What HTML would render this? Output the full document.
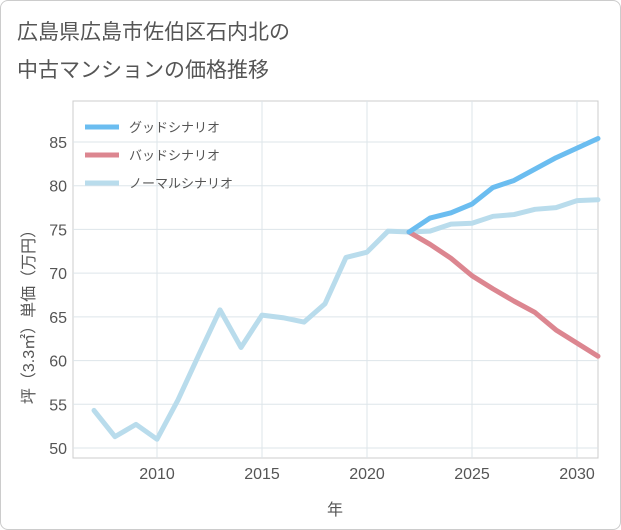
<!DOCTYPE html>
<html><head><meta charset="utf-8"><style>
body{margin:0;background:#fff;font-family:"Liberation Sans","Noto Sans CJK JP",sans-serif;}
#wrap{position:relative;width:619px;height:528px;border:1px solid #ccc;border-radius:8px;overflow:hidden;background:#fff}
#title{position:absolute;left:16px;top:13px;font-size:21px;line-height:38px;color:#555;}
</style></head><body>
<div id="wrap">
<div id="title">広島県広島市佐伯区石内北の<br>中古マンションの価格推移</div>
<svg id="chart" width="621" height="530" style="position:absolute;left:0;top:0"></svg>
</div>
<script>
const years=[2007,2008,2009,2010,2011,2012,2013,2014,2015,2016,2017,2018,2019,2020,2021,2022,2023,2024,2025,2026,2027,2028,2029,2030,2031];
const normalVals=[54.3,51.3,52.7,51.0,55.5,60.7,65.8,61.5,65.2,64.9,64.4,66.5,71.8,72.4,74.8,74.7,74.8,75.6,75.7,76.5,76.7,77.3,77.5,78.3,78.4];
const futureYears=[2022,2023,2024,2025,2026,2027,2028,2029,2030,2031];
const goodVals=[74.7,76.3,76.9,77.9,79.8,80.6,81.9,83.2,84.3,85.4];
const badVals=[74.7,73.3,71.7,69.7,68.2,66.8,65.5,63.5,62.0,60.5];
const xTicks=[2010,2015,2020,2025,2030];
const yTicks=[50,55,60,65,70,75,80,85];
const legendLabels=["グッドシナリオ","バッドシナリオ","ノーマルシナリオ"];
const legendColors=["#6bbdf0","#dc8690","#b9dcec"];

const NS="http://www.w3.org/2000/svg";
const svg=document.getElementById('chart');
const L=72,R=597,T=100,B=457;
const x=y=>156+(y-2010)*21;
const yv=v=>447-(v-50)*(306/35);
function mk(t,a){const e=document.createElementNS(NS,t);for(const k in a)e.setAttribute(k,a[k]);svg.appendChild(e);return e;}
const bg=mk('rect',{x:L,y:T,width:R-L,height:B-T,fill:'#fff',stroke:'#ccc'});


for(const t of xTicks){
 const g=mk('line',{x1:x(t),x2:x(t),y1:T,y2:B,stroke:'#dde5ea'});
 
 
 const tx=mk('text',{x:x(t),y:478,'text-anchor':'middle','font-size':16,fill:'#555'});tx.textContent=t;
 
 
}
for(const t of yTicks){
 const g=mk('line',{x1:L,x2:R,y1:yv(t),y2:yv(t),stroke:'#dde5ea'});
 
 
 const tx=mk('text',{x:66,y:yv(t)+6,'text-anchor':'end','font-size':16,fill:'#555'});tx.textContent=t;
 
 
}
function line(xs,vs,c,name){
 const p=mk('polyline',{points:xs.map((a,i)=>x(a)+','+yv(vs[i])).join(' '),fill:'none',stroke:c,'stroke-width':5,'stroke-linejoin':'round','stroke-linecap':'round'});
 
 
}
line(years,normalVals,legendColors[2],'normal-scenario-line');
line(futureYears,badVals,legendColors[1],'bad-scenario-line');
line(futureYears,goodVals,legendColors[0],'good-scenario-line');
legendLabels.forEach((lb,i)=>{
 const yy=126+i*28;
 const l=mk('line',{x1:84,x2:118,y1:yy,y2:yy,stroke:legendColors[i],'stroke-width':5});
 
 
 const t=mk('text',{x:128,y:yy+5,'font-size':13,fill:'#555'});t.textContent=lb;
 
 
});
const xt=mk('text',{x:334,y:514,'text-anchor':'middle','font-size':16,fill:'#555'});xt.textContent='年';


const yt=mk('text',{x:0,y:0,'text-anchor':'middle','font-size':16,fill:'#555',transform:'translate(33,312) rotate(-90)'});yt.textContent='坪（3.3㎡）単価（万円）';


</script>
</body></html>
